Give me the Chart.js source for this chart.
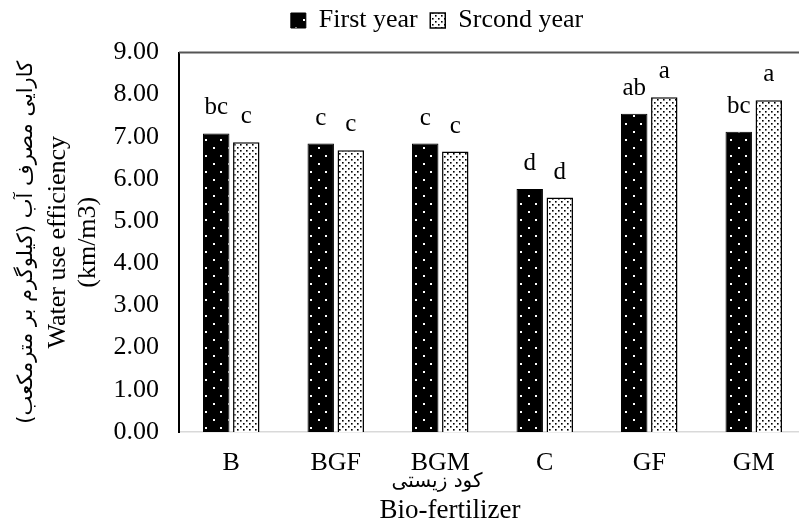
<!DOCTYPE html>
<html>
<head>
<meta charset="utf-8">
<script src="https://cdn.jsdelivr.net/npm/chart.js@4"></script>
<style>
  html, body { margin: 0; padding: 0; background: #fff; overflow: hidden; }
  #wrap { width: 806px; height: 529px; }
</style>
</head>
<body>
<div id="wrap"><canvas id="chart" width="806" height="529"></canvas></div>
<script>
const categories = ["B", "BGF", "BGM", "C", "GF", "GM"];
const firstYear = [7.08, 6.84, 6.84, 5.76, 7.55, 7.12];
const secondYear = [6.87, 6.68, 6.65, 5.56, 7.94, 7.87];
const firstLetters = ["bc", "c", "c", "d", "ab", "bc"];
const secondLetters = ["c", "c", "c", "d", "a", "a"];
const seriesNames = ["First year", "Srcond year"];
const yMax = 9;
const yStep = 1;

const serif = "'Liberation Serif', 'Times New Roman', serif";

function dots(bg, fg, w, h, pts, s) {
  const c = document.createElement("canvas");
  c.width = w;
  c.height = h;
  const g = c.getContext("2d");
  g.fillStyle = bg;
  g.fillRect(0, 0, w, h);
  g.fillStyle = fg;
  pts.forEach((p) => g.fillRect(p[0], p[1], s, s));
  return g.createPattern(c, "repeat");
}

const blackDots = dots("#000", "#fff", 15, 16, [[3, 3], [10, 11]], 2);
const whiteDots = dots("#fff", "#000", 6, 6, [[0, 0], [3, 3]], 1.6);

// letters above the bars
const letterPlugin = {
  id: "letters",
  afterDatasetsDraw(chart) {
    const ctx = chart.ctx;
    const sets = [firstLetters, secondLetters];
    ctx.save();
    ctx.font = "25px " + serif;
    ctx.fillStyle = "#000";
    ctx.textAlign = "center";
    ctx.textBaseline = "alphabetic";
    sets.forEach((letters, i) => {
      chart.getDatasetMeta(i).data.forEach((bar, j) => {
        ctx.fillText(letters[j], bar.x, bar.y - 19);
      });
    });
    ctx.restore();
  },
};

// axis titles, top frame line, legend position
const framePlugin = {
  id: "frame",
  afterLayout(chart) {
    const lg = chart.legend;
    const shift = 437 - (lg.left + lg.right) / 2;
    lg.left += shift;
    lg.right += shift;
    lg.top -= 9;
    lg.bottom -= 9;
  },
  afterDraw(chart) {
    const ctx = chart.ctx;
    const a = chart.chartArea;
    ctx.save();
    ctx.strokeStyle = "#555";
    ctx.lineWidth = 2;
    ctx.beginPath();
    ctx.moveTo(a.left, a.top);
    ctx.lineTo(a.right, a.top);
    ctx.stroke();

    const midY = (a.top + a.bottom) / 2;
    ctx.fillStyle = "#000";
    ctx.textAlign = "center";
    ctx.textBaseline = "middle";
    ctx.translate(0, midY);
    ctx.rotate(-Math.PI / 2);
    ctx.direction = "rtl";
    ctx.font = "21px 'DejaVu Sans', sans-serif";
    ctx.fillText("کارایی مصرف آب (کیلوگرم بر مترمکعب)", 0, 27);
    ctx.direction = "ltr";
    ctx.font = "26px " + serif;
    ctx.fillText("Water use efficiency", 0, 58);
    ctx.fillText("(km/m3)", 0, 88);
    ctx.restore();

    ctx.save();
    ctx.fillStyle = "#000";
    ctx.textAlign = "center";
    ctx.textBaseline = "middle";
    ctx.direction = "rtl";
    ctx.font = "20px 'DejaVu Sans', sans-serif";
    ctx.fillText("کود زیستی", 437, 482);
    ctx.direction = "ltr";
    ctx.font = "27px " + serif;
    ctx.fillText("Bio-fertilizer", 450, 511);
    ctx.restore();
  },
};

new Chart(document.getElementById("chart"), {
  type: "bar",
  data: {
    labels: categories,
    datasets: [
      {
        label: seriesNames[0],
        data: firstYear,
        backgroundColor: blackDots,
        borderColor: "#000",
        borderWidth: 1,
        categoryPercentage: 0.575,
        barPercentage: 0.88,
      },
      {
        label: seriesNames[1],
        data: secondYear,
        backgroundColor: whiteDots,
        borderColor: "#000",
        borderWidth: 1.5,
        categoryPercentage: 0.575,
        barPercentage: 0.88,
      },
    ],
  },
  options: {
    responsive: false,
    animation: false,
    layout: { padding: { top: 4 } },
    plugins: {
      tooltip: { enabled: false },
      legend: {
        position: "top",
        labels: {
          font: { family: serif, size: 26 },
          color: "#000",
          boxWidth: 15,
          boxHeight: 15,
          padding: 12.5,
        },
      },
    },
    scales: {
      x: {
        afterFit(scale) { scale.height = 97; },
        grid: { display: false, drawTicks: false },
        border: { color: "#d9d9d9", width: 1.5 },
        ticks: { font: { family: serif, size: 26 }, color: "#000", padding: 16 },
      },
      y: {
        min: 0,
        max: yMax,
        afterFit(scale) { scale.width = 179; },
        grid: { display: false, drawTicks: false },
        border: { color: "#000", width: 2 },
        ticks: {
          stepSize: yStep,
          font: { family: serif, size: 26 },
          color: "#000",
          padding: 20,
          callback: (v) => v.toFixed(2),
        },
      },
    },
  },
  plugins: [letterPlugin, framePlugin],
});
</script>
</body>
</html>
